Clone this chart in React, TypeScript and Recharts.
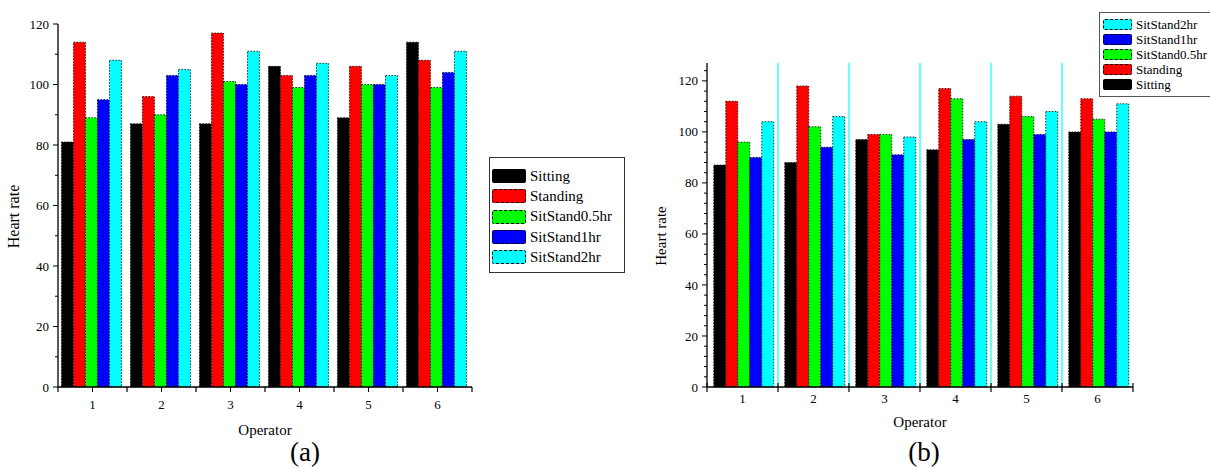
import React from 'react';
import { BarChart, Bar, XAxis, YAxis, CartesianGrid } from 'recharts';

const serif = '"Liberation Serif", "DejaVu Serif", "Noto Serif", "Times New Roman", serif';

const operators = ['1', '2', '3', '4', '5', '6'];
const seriesNames = ['Sitting', 'Standing', 'SitStand0.5hr', 'SitStand1hr', 'SitStand2hr'];
const seriesColors = ['#000000', '#ff0000', '#00ff00', '#0000ff', '#00ffff'];

// (a)
const sittingA = [81, 87, 87, 106, 89, 114];
const standingA = [114, 96, 117, 103, 106, 108];
const sitStand05A = [89, 90, 101, 99, 100, 99];
const sitStand1A = [95, 103, 100, 103, 100, 104];
const sitStand2A = [108, 105, 111, 107, 103, 111];

// (b)
const sittingB = [87, 88, 97, 93, 103, 100];
const standingB = [112, 118, 99, 117, 114, 113];
const sitStand05B = [96, 102, 99, 113, 106, 105];
const sitStand1B = [90, 94, 91, 97, 99, 100];
const sitStand2B = [104, 106, 98, 104, 108, 111];

const yTicksA = [0, 10, 20, 30, 40, 50, 60, 70, 80, 90, 100, 110, 120];
const yTicksB = [0, 4, 8, 12, 16, 20, 24, 28, 32, 36, 40, 44, 48, 52, 56, 60, 64, 68, 72, 76, 80, 84, 88, 92, 96, 100, 104, 108, 112, 116, 120, 124];

const buildRows = (cols: number[][]) =>
  operators.map((op, i) => {
    const row: Record<string, string | number> = { operator: op };
    seriesNames.forEach((name, s) => {
      row[name] = cols[s][i];
    });
    return row;
  });

const dataA = buildRows([sittingA, standingA, sitStand05A, sitStand1A, sitStand2A]);
const dataB = buildRows([sittingB, standingB, sitStand05B, sitStand1B, sitStand2B]);

const makeYTick = (labelStep: number) => (props: any) => {
  const { x, y, payload } = props;
  const v = Number(payload.value);
  const major = v % labelStep === 0;
  return (
    <g>
      <line x1={x - (major ? 5 : 3)} x2={x} y1={y} y2={y} stroke="#000" strokeWidth={1} />
      {major && (
        <text x={x - 9} y={y} dy="0.35em" textAnchor="end" fontSize={13} fill="#000" style={{ fontFamily: serif }}>
          {v}
        </text>
      )}
    </g>
  );
};

const makeXTick = (band: number, labelDy: number, crossing: boolean) => (props: any) => {
  const { x, y, payload, index } = props;
  const edges = [x - band / 2];
  if (index === operators.length - 1) edges.push(x + band / 2);
  return (
    <g>
      {!crossing && <line x1={x} x2={x} y1={y} y2={y + 5} stroke="#000" />}
      {edges.map((e) => (
        <line key={e} x1={e} x2={e} y1={crossing ? y - 4 : y} y2={y + 5} stroke="#000" strokeWidth={1.2} />
      ))}
      <text x={x} y={y + labelDy} dy="0.35em" textAnchor="middle" fontSize={13} fill="#000" style={{ fontFamily: serif }}>
        {payload.value}
      </text>
    </g>
  );
};

const yTitle = (gap: number, fontSize: number) => (props: any) => {
  const vb = props.viewBox;
  const cx = vb.x + vb.width - gap;
  const cy = vb.y + vb.height / 2 + 11;
  return (
    <text x={cx} y={cy} transform={`rotate(-90, ${cx}, ${cy})`} textAnchor="middle" dy="0.35em" fontSize={fontSize} fill="#000" style={{ fontFamily: serif }}>
      Heart rate
    </text>
  );
};

const xTitle = (gap: number) => (props: any) => {
  const vb = props.viewBox;
  return (
    <text x={vb.x + vb.width / 2} y={vb.y + gap} textAnchor="middle" dy="0.35em" fontSize={15} fill="#000" style={{ fontFamily: serif }}>
      Operator
    </text>
  );
};

const LegendBox = ({ order, style, swatchW, swatchH, fontSize, rowH }: any) => (
  <div style={{ position: 'absolute', boxSizing: 'border-box', background: '#fff', fontFamily: serif, color: '#000', ...style }}>
    {order.map((i: number) => (
      <div key={seriesNames[i]} style={{ display: 'flex', alignItems: 'center', height: rowH }}>
        <span
          style={{
            display: 'inline-block',
            boxSizing: 'border-box',
            width: swatchW,
            height: swatchH,
            background: seriesColors[i],
            border: '1px dashed #000',
            borderRadius: 2,
            marginRight: 4,
          }}
        />
        <span style={{ fontSize, lineHeight: 1, whiteSpace: 'nowrap' }}>{seriesNames[i]}</span>
      </div>
    ))}
  </div>
);

const W_A = 480;
const H = 469;
const W_B = 570;
const marginA = { top: 24, right: 8, bottom: 52, left: 8 };
const marginB = { top: 63, right: 77, bottom: 52, left: 17 };
const bandA = (W_A - marginA.left - 50 - marginA.right) / operators.length;
const bandB = (W_B - marginB.left - 50 - marginB.right) / operators.length;

export default function App() {
  return (
    <div style={{ position: 'absolute', left: 0, top: 0, width: 1210, height: H, background: '#fff', overflow: 'hidden', fontFamily: serif }}>
      <div style={{ position: 'absolute', left: 0, top: 0 }}>
        <BarChart width={W_A} height={H} data={dataA} margin={marginA} barGap={0} barCategoryGap="5%">
          <XAxis
            dataKey="operator"
            height={30}
            interval={0}
            tickSize={0}
            tickMargin={0}
            tickLine={false}
            axisLine={{ stroke: '#000', strokeWidth: 1.3 }}
            tick={makeXTick(bandA, 17, false)}
            label={xTitle(43)}
          />
          <YAxis
            width={50}
            domain={[0, 120]}
            ticks={yTicksA}
            interval={0}
            tickSize={0}
            tickMargin={0}
            tickLine={false}
            axisLine={{ stroke: '#000', strokeWidth: 1.3 }}
            tick={makeYTick(20)}
            label={yTitle(45, 16)}
          />
          {seriesNames.map((name, i) => (
            <Bar key={name} dataKey={name} fill={seriesColors[i]} stroke="#000" strokeWidth={0.8} strokeDasharray="1.5 1.5" isAnimationActive={false} />
          ))}
        </BarChart>
      </div>

      <div style={{ position: 'absolute', left: 640, top: 0 }}>
        <BarChart width={W_B} height={H} data={dataB} margin={marginB} barGap={0} barCategoryGap="9.5%">
          <CartesianGrid
            horizontal={false}
            stroke="#00ffff"
            strokeWidth={1.2}
            verticalCoordinatesGenerator={({ offset }: any) =>
              operators.slice(1).map((_, i) => offset.left + ((i + 1) * offset.width) / operators.length)
            }
          />
          <XAxis
            dataKey="operator"
            height={30}
            interval={0}
            tickSize={0}
            tickMargin={0}
            tickLine={false}
            axisLine={{ stroke: '#000', strokeWidth: 1.3 }}
            tick={makeXTick(bandB, 11, true)}
            label={xTitle(35)}
          />
          <YAxis
            width={50}
            domain={[0, 127]}
            ticks={yTicksB}
            interval={0}
            tickSize={0}
            tickMargin={0}
            tickLine={false}
            axisLine={{ stroke: '#000', strokeWidth: 1.3 }}
            tick={makeYTick(20)}
            label={yTitle(46, 15)}
          />
          {seriesNames.map((name, i) => (
            <Bar key={name} dataKey={name} fill={seriesColors[i]} stroke="#000" strokeWidth={0.8} strokeDasharray="1.5 1.5" isAnimationActive={false} />
          ))}
        </BarChart>
      </div>

      <LegendBox
        order={[0, 1, 2, 3, 4]}
        style={{ left: 489, top: 157, width: 136, height: 116, border: '1.3px solid #333', padding: '8px 0 0 2px' }}
        swatchW={34}
        swatchH={14}
        fontSize={15}
        rowH={20.3}
      />
      <LegendBox
        order={[4, 3, 2, 1, 0]}
        style={{ left: 1099, top: 12, width: 112, height: 85, border: '1.5px solid #555', padding: '4px 0 0 3px' }}
        swatchW={29}
        swatchH={11}
        fontSize={13}
        rowH={15}
      />

      <div style={{ position: 'absolute', left: 265, top: 436, width: 80, textAlign: 'center', fontSize: 27, lineHeight: '32px' }}>(a)</div>
      <div style={{ position: 'absolute', left: 884, top: 436, width: 80, textAlign: 'center', fontSize: 27, lineHeight: '32px' }}>(b)</div>
    </div>
  );
}
